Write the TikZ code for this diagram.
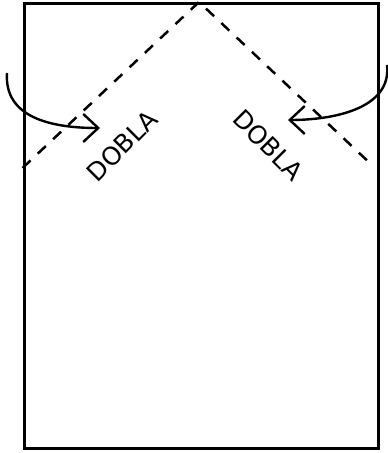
\documentclass[tikz,border=0pt]{standalone}
\usepackage{fontspec}
\setmainfont{DejaVu Sans}
\usetikzlibrary{arrows.meta}
\begin{document}
\begin{tikzpicture}[x=1pt,y=1pt,
  frame/.style={draw=black,line width=3pt},
  foldline/.style={draw=black,line width=2.5pt,dash pattern=on 11pt off 10pt},
  foldarrow/.style={draw=black,line width=2.4pt,-{Straight Barb[length=15pt,width=28pt,line width=2.4pt]}},
  lbl/.style={font=\fontsize{25}{25}\selectfont,inner sep=0pt}]
\useasboundingbox (0,0) rectangle (388,453);
\node[frame,minimum width=354pt,minimum height=445pt,inner sep=0pt,anchor=south west] (sheet) at (22.5,3) {};
\coordinate (fl) at (22.5,285);
\coordinate (apex) at (199,451);
\coordinate (fr) at (374,286);
\draw[foldline] (fl) -- (apex) -- (fr);
\coordinate (la) at (7,380);
\coordinate (lt) at (100,325);
\coordinate (ra) at (387,388);
\coordinate (rt) at (288,333);
\draw[foldarrow] (la) .. controls (4,336) and (50,325) .. (lt);
\draw[foldarrow] (ra) .. controls (392,343) and (330,333) .. (rt);
\node[lbl,rotate=45] (lbl1) at (122,307) {DOBLA};
\node[lbl,rotate=-45] (lbl2) at (268.5,308) {DOBLA};
\end{tikzpicture}
\end{document}
